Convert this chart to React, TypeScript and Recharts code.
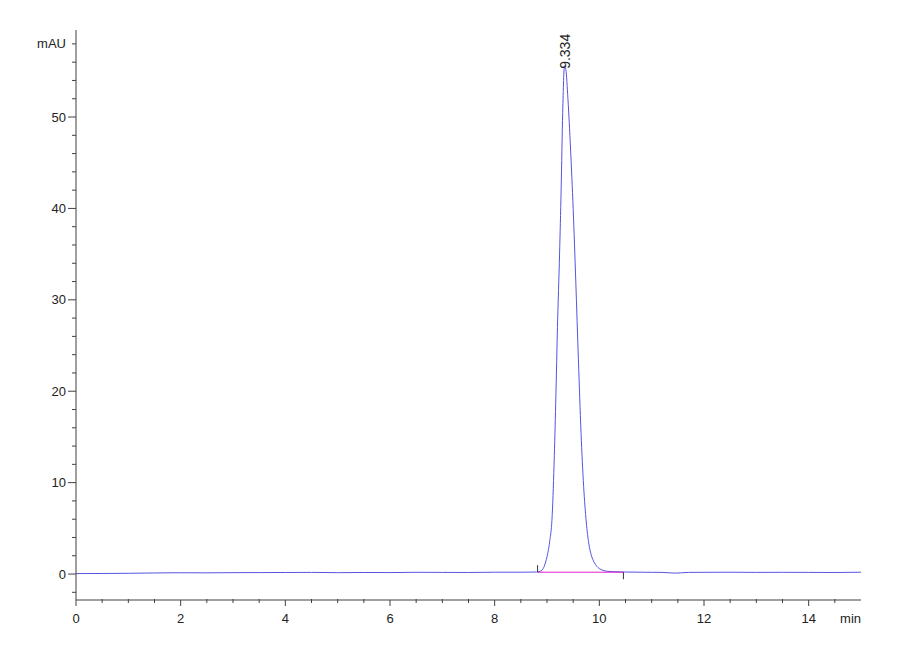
import React from 'react';
import { LineChart, Line, XAxis, YAxis } from 'recharts';

// Chromatogram trace (retention time in min, absorbance in mAU)
const time = [
  0, 0.5, 1, 1.5, 2, 2.5, 3, 3.5, 4, 4.5, 5, 5.5, 6, 6.5, 7, 7.5, 8, 8.5,
  8.8, 8.9, 8.95, 9.0, 9.05, 9.1, 9.14, 9.17, 9.2, 9.24, 9.27, 9.3, 9.334,
  9.36, 9.4, 9.45, 9.5, 9.55, 9.6, 9.65, 9.7, 9.75, 9.8, 9.85, 9.9,
  9.95, 10.0, 10.06, 10.15, 10.3, 10.5, 10.8, 11.0, 11.2, 11.35, 11.45, 11.55,
  11.7, 12, 12.5, 13, 13.5, 14, 14.5, 15,
];
const absorbance = [
  0.05, 0.06, 0.08, 0.12, 0.14, 0.13, 0.15, 0.16, 0.17, 0.18, 0.15, 0.17, 0.16, 0.19, 0.18, 0.17, 0.2, 0.2,
  0.22, 0.4, 0.9, 1.9, 3.5, 6.5, 13, 19.5, 27, 35, 42, 50.5, 55.6,
  55.2, 52, 46.5, 40, 32, 23.5, 15.5, 9.6, 5.7, 3.3, 2.0, 1.3,
  0.85, 0.6, 0.42, 0.3, 0.25, 0.22, 0.2, 0.19, 0.18, 0.13, 0.1, 0.13,
  0.18, 0.19, 0.2, 0.18, 0.19, 0.18, 0.17, 0.2,
];

// Integration baseline of the peak
const baseTime = [8.82, 10.46];
const baseValue = [0.2, 0.2];

const PEAK_RT = 9.334;

// Axis ticks
const xTicks = [
  0, 0.5, 1, 1.5, 2, 2.5, 3, 3.5, 4, 4.5, 5, 5.5, 6, 6.5, 7, 7.5,
  8, 8.5, 9, 9.5, 10, 10.5, 11, 11.5, 12, 12.5, 13, 13.5, 14, 14.5, 15,
];
const yTicks = [
  -2, 0, 2, 4, 6, 8, 10, 12, 14, 16, 18, 20, 22, 24, 26, 28, 30, 32, 34, 36, 38,
  40, 42, 44, 46, 48, 50, 52, 54, 56, 58,
];

const trace = time.map((t, i) => ({ t, v: absorbance[i] }));
const baseline = baseTime.map((t, i) => ({ t, v: baseValue[i] }));

const FONT = '"Liberation Sans Narrow", "Liberation Sans", Arial, sans-serif';
const AXIS = '#404040';

const XTick = (props: any) => {
  const { x, y, payload } = props;
  const v = payload.value;
  if (v === 15) {
    return (
      <text x={x} y={y + 23} textAnchor="end" fontSize={13} fontFamily={FONT} fill="#222">
        min
      </text>
    );
  }
  const major = v % 2 === 0;
  return (
    <g>
      <line x1={x} x2={x} y1={major ? y : y - 1} y2={major ? y + 6 : y + 3} stroke={AXIS} strokeWidth={1} />
      {major && (
        <text x={x} y={y + 23} textAnchor="middle" fontSize={13} fontFamily={FONT} fill="#222">
          {v}
        </text>
      )}
    </g>
  );
};

const YTick = (props: any) => {
  const { x, y, payload } = props;
  const v = payload.value;
  const major = v % 10 === 0;
  const label = v === 58 ? 'mAU' : major ? String(v) : null;
  return (
    <g>
      <line x1={major ? x - 8 : x - 4} x2={x} y1={y} y2={y} stroke={AXIS} strokeWidth={1} />
      {label && (
        <text x={x - 10} y={y + 4.6} textAnchor="end" fontSize={13} fontFamily={FONT} fill="#222">
          {label}
        </text>
      )}
    </g>
  );
};

const PeakDot = (props: any) => {
  const { cx, cy, payload, index } = props;
  if (payload.t !== PEAK_RT) return <g key={`d-${index}`} />;
  return (
    <text
      key={`d-${index}`}
      x={cx + 6}
      y={cy + 3}
      transform={`rotate(-90, ${cx + 6}, ${cy + 3})`}
      fontSize={14}
      fontFamily={FONT}
      fill="#222"
    >
      {PEAK_RT.toFixed(3)}
    </text>
  );
};

const BaseDot = (props: any) => {
  const { cx, cy, index } = props;
  return (
    <line
      key={`b-${index}`}
      x1={cx}
      x2={cx}
      y1={index === 0 ? cy - 7 : cy}
      y2={index === 0 ? cy : cy + 7}
      stroke="#333"
      strokeWidth={1}
    />
  );
};

export default function App() {
  return (
    <div style={{ position: 'absolute', left: 0, top: 0, background: '#fff' }}>
      <LineChart width={900} height={660} margin={{ top: 30, right: 39, bottom: 0, left: 0 }}>
        <XAxis
          type="number"
          dataKey="t"
          domain={[0, 15]}
          ticks={xTicks}
          allowDataOverflow
          height={60}
          tickSize={0}
          tickMargin={0}
          tickLine={false}
          axisLine={{ stroke: AXIS }}
          tick={<XTick />}
          interval={0}
        />
        <YAxis
          type="number"
          dataKey="v"
          domain={[-2.84, 59.52]}
          ticks={yTicks}
          allowDataOverflow
          width={76}
          tickSize={0}
          tickMargin={0}
          tickLine={false}
          axisLine={{ stroke: AXIS }}
          tick={<YTick />}
          interval={0}
        />
        <Line
          data={trace}
          dataKey="v"
          type="monotone"
          stroke="#5454e0"
          strokeWidth={1}
          dot={<PeakDot />}
          activeDot={false}
          isAnimationActive={false}
        />
        <Line
          data={baseline}
          dataKey="v"
          type="linear"
          stroke="#e020c8"
          strokeWidth={1}
          dot={<BaseDot />}
          activeDot={false}
          isAnimationActive={false}
        />
      </LineChart>
    </div>
  );
}
